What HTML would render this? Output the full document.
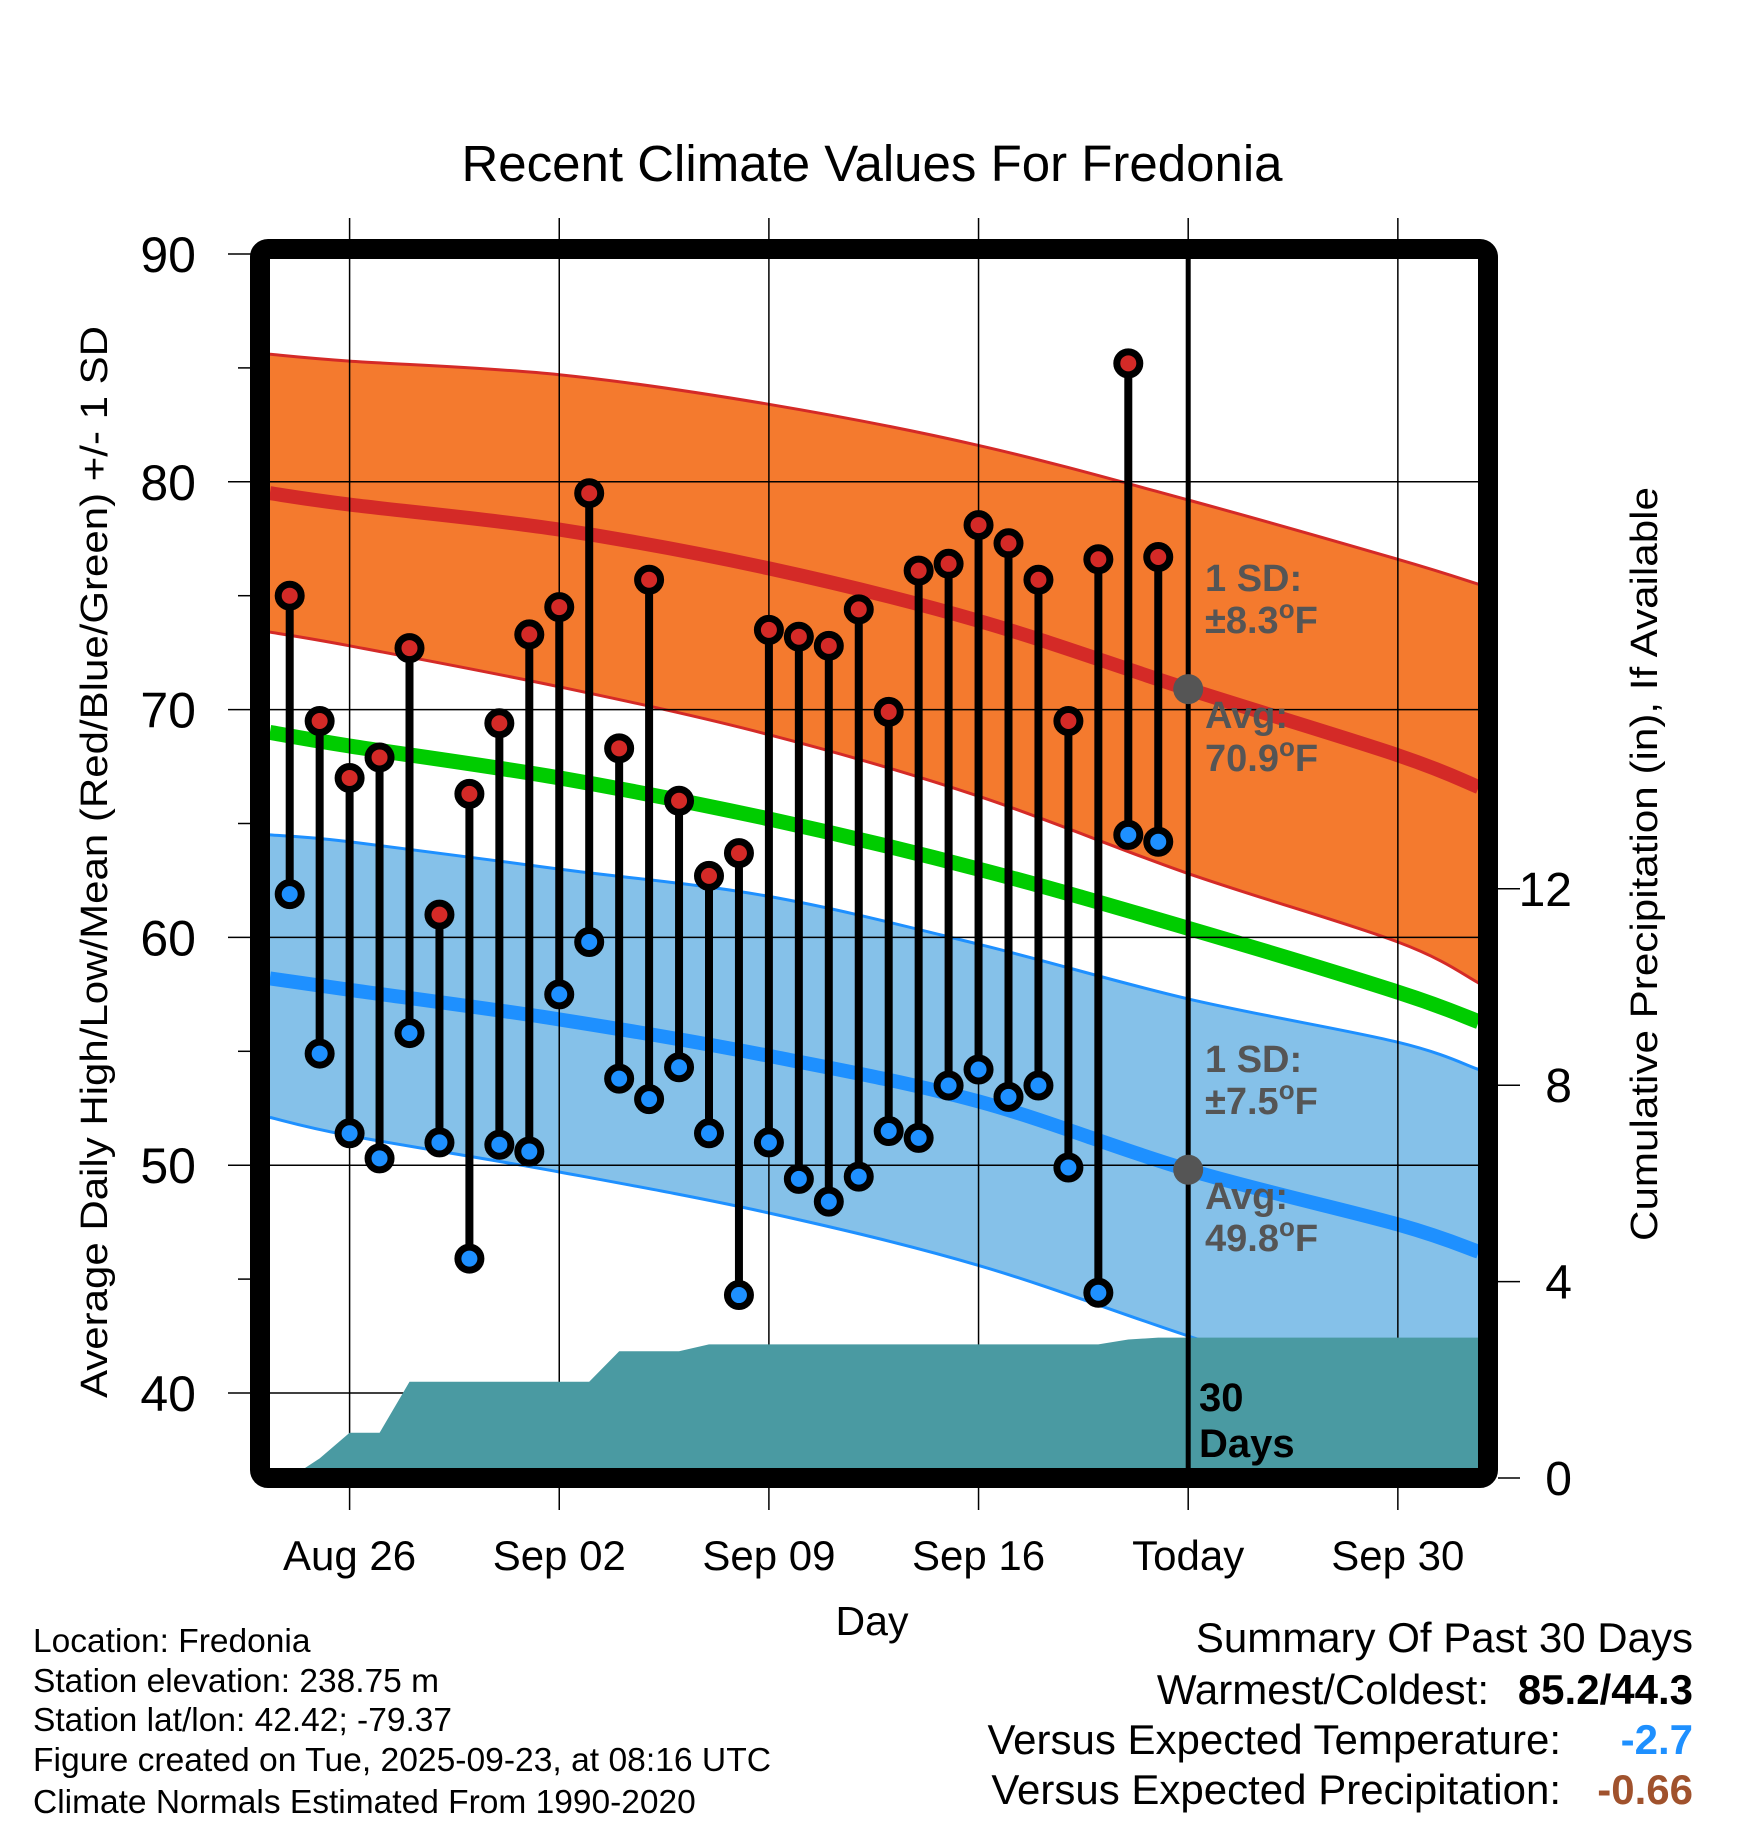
<!DOCTYPE html>
<html><head><meta charset="utf-8"><style>
html,body{margin:0;padding:0;background:#fff;}
svg{display:block;font-family:"Liberation Sans",Arial,sans-serif;}
</style></head><body>
<svg id="chart" width="1748" height="1828" viewBox="0 0 1748 1828" xmlns="http://www.w3.org/2000/svg">
<defs><clipPath id="plotclip"><rect x="270" y="259" width="1208" height="1209"/></clipPath></defs>
<g id="bands" clip-path="url(#plotclip)"></g>
<g id="grid"></g>
<g id="precip" clip-path="url(#plotclip)"></g>
<g id="marks"></g>
<rect x="260" y="249" width="1228" height="1229" rx="8" fill="none" stroke="#000" stroke-width="20"/>
<g id="axes"></g>
<text x="872" y="181" font-size="51" text-anchor="middle">Recent Climate Values For Fredonia</text>
<text x="872" y="1635" font-size="41" text-anchor="middle">Day</text>
<text transform="translate(107,862) rotate(-90)" font-size="38" text-anchor="middle" textLength="1072" lengthAdjust="spacingAndGlyphs">Average Daily High/Low/Mean (Red/Blue/Green) +/- 1 SD</text>
<text transform="translate(1657,864) rotate(-90)" font-size="38" text-anchor="middle" textLength="754" lengthAdjust="spacingAndGlyphs">Cumulative Precipitation (in), If Available</text>
<g fill="#555" font-weight="bold" font-size="38">
<text x="1205" y="591">1 SD:</text>
<text x="1205" y="633">±8.3<tspan font-size="26" dy="-15">o</tspan><tspan dy="15">F</tspan></text>
<text x="1205" y="728">Avg:</text>
<text x="1205" y="771">70.9<tspan font-size="26" dy="-15">o</tspan><tspan dy="15">F</tspan></text>
</g>
<g fill="#555" font-weight="bold" font-size="38">
<text x="1205" y="1072">1 SD:</text>
<text x="1205" y="1114">±7.5<tspan font-size="26" dy="-15">o</tspan><tspan dy="15">F</tspan></text>
<text x="1205" y="1209">Avg:</text>
<text x="1205" y="1251">49.8<tspan font-size="26" dy="-15">o</tspan><tspan dy="15">F</tspan></text>
</g>
<g fill="#000" font-weight="bold" font-size="40">
<text x="1199" y="1411">30</text>
<text x="1199" y="1457">Days</text>
</g>
<g font-size="33.5">
<text x="33" y="1652">Location: Fredonia</text>
<text x="33" y="1692">Station elevation: 238.75 m</text>
<text x="33" y="1731">Station lat/lon: 42.42; -79.37</text>
<text x="33" y="1771" textLength="738" lengthAdjust="spacingAndGlyphs">Figure created on Tue, 2025-09-23, at 08:16 UTC</text>
<text x="33" y="1813">Climate Normals Estimated From 1990-2020</text>
</g>
<g font-size="42">
<text x="1693" y="1652" text-anchor="end">Summary Of Past 30 Days</text>
<text x="1489" y="1704" text-anchor="end">Warmest/Coldest:</text>
<text x="1693" y="1704" text-anchor="end" font-weight="bold">85.2/44.3</text>
<text x="1561" y="1754" text-anchor="end">Versus Expected Temperature:</text>
<text x="1693" y="1754" text-anchor="end" font-weight="bold" fill="#1e90ff">-2.7</text>
<text x="1561" y="1804" text-anchor="end">Versus Expected Precipitation:</text>
<text x="1693" y="1804" text-anchor="end" font-weight="bold" fill="#a0522d">-0.66</text>
</g>
</svg>
<script>
// days offset from Aug 26
const normDays = [-2.66, 0, 7, 14, 21, 28, 35, 37.7];
const highUpper = [85.6, 85.3, 84.7, 83.4, 81.6, 79.2, 76.6, 75.5];
const highMean  = [79.5, 79.0, 77.9, 76.2, 73.9, 70.9, 68.0, 66.6];
const highLower = [73.4, 72.8, 71.0, 68.9, 66.2, 62.8, 59.8, 58.0];
const avgMean   = [69.0, 68.4, 67.0, 65.2, 63.0, 60.4, 57.6, 56.3];
const lowUpper  = [64.5, 64.2, 63.0, 61.8, 59.7, 57.3, 55.4, 54.2];
const lowMean   = [58.2, 57.7, 56.4, 54.8, 52.8, 49.8, 47.4, 46.2];
const lowLower  = [52.1, 51.3, 49.7, 47.9, 45.6, 42.5, 39.5, 38.5];
const obsStartDay = -2; // Aug 24
const highs = [75.0,69.5,67.0,67.9,72.7,61.0,66.3,69.4,73.3,74.5,79.5,68.3,75.7,66.0,62.7,63.7,73.5,73.2,72.8,74.4,69.9,76.1,76.4,78.1,77.3,75.7,69.5,76.6,85.2,76.7];
const lows  = [61.9,54.9,51.4,50.3,55.8,51.0,45.9,50.9,50.6,57.5,59.8,53.8,52.9,54.3,51.4,44.3,51.0,49.4,48.4,49.5,51.5,51.2,53.5,54.2,53.0,53.5,49.9,44.4,64.5,64.2];
const precipCum = [0.0,0.4,0.92,0.92,1.96,1.96,1.96,1.96,1.96,1.96,1.96,2.58,2.58,2.58,2.72,2.72,2.72,2.72,2.72,2.72,2.72,2.72,2.72,2.72,2.72,2.72,2.72,2.72,2.82,2.86];
const tempTicks = [90, 80, 70, 60, 50, 40];
const tempMinor = [85, 75, 65, 55, 45];
const precipTicks = [0, 4, 8, 12];
const xTickDays = [0, 7, 14, 21, 28, 35];
const xTickLabels = ["Aug 26", "Sep 02", "Sep 09", "Sep 16", "Today", "Sep 30"];
const todayDay = 28;
const todayHigh = 70.9, todayLow = 49.8;

const NS = "http://www.w3.org/2000/svg";
const X = d => 349.6 + d * 29.95;
const Y = t => 254 + (90 - t) * 22.78;
const P = p => 1478 - p * 49.1;
function mk(tag, attrs, parent) { const e = document.createElementNS(NS, tag); for (const k in attrs) e.setAttribute(k, attrs[k]); parent.appendChild(e); return e; }
const xy = arr => arr.map((v, i) => [X(normDays[i]), Y(v)]);
function smooth(p, move) {
  let s = (move ? 'M' : 'L') + p[0][0].toFixed(1) + ',' + p[0][1].toFixed(1);
  for (let i = 0; i < p.length - 1; i++) {
    const p0 = p[Math.max(i - 1, 0)], p1 = p[i], p2 = p[i + 1], p3 = p[Math.min(i + 2, p.length - 1)];
    const c1 = [p1[0] + (p2[0] - p0[0]) / 6, p1[1] + (p2[1] - p0[1]) / 6];
    const c2 = [p2[0] - (p3[0] - p1[0]) / 6, p2[1] - (p3[1] - p1[1]) / 6];
    s += 'C' + c1.map(v => v.toFixed(1)).join(',') + ' ' + c2.map(v => v.toFixed(1)).join(',') + ' ' + p2[0].toFixed(1) + ',' + p2[1].toFixed(1);
  }
  return s;
}
const bands = document.getElementById('bands'), grid = document.getElementById('grid'), precip = document.getElementById('precip'), marks = document.getElementById('marks'), axes = document.getElementById('axes');

let e = mk('path', {d: smooth(xy(highUpper), true) + smooth(xy(highLower).reverse(), false) + 'Z', fill: '#f47a2e'}, bands);
 
e = mk('path', {d: smooth(xy(lowUpper), true) + smooth(xy(lowLower).reverse(), false) + 'Z', fill: '#85c1e9'}, bands);
 
[[highUpper,'#d42a27',3,'high-upper-edge'],[highLower,'#d42a27',3,'high-lower-edge'],[lowUpper,'#1e90ff',3,'low-upper-edge'],[lowLower,'#1e90ff',3,'low-lower-edge'],
 [avgMean,'#00cc00',15,'mean-normal-line'],[highMean,'#d42a27',14,'high-normal-line'],[lowMean,'#1e90ff',14,'low-normal-line']].forEach(s => {
  const l = mk('path', {d: smooth(xy(s[0]), true), fill: 'none', stroke: s[1], 'stroke-width': s[2]}, bands);
  
  
});
tempTicks.forEach(t => {
  const g = mk('line', {x1: 228, x2: 1478, y1: Y(t), y2: Y(t), stroke: '#000', 'stroke-width': 1.5}, grid);
  
  
});
xTickDays.forEach(d => {
  const g = mk('line', {x1: X(d), x2: X(d), y1: 218, y2: 1510, stroke: '#000', 'stroke-width': 1.5}, grid);
  
  
});
const pp = [[270, P(0)], [X(obsStartDay), P(0)]];
precipCum.forEach((v, i) => pp.push([X(obsStartDay + i), P(v)]));
pp.push([1478, P(precipCum[precipCum.length - 1])], [1478, P(0)]);
e = mk('polygon', {points: pp.map(p => p[0].toFixed(1) + ',' + p[1].toFixed(1)).join(' '), fill: '#4a9aa2'}, precip);
 
e = mk('line', {x1: X(todayDay), x2: X(todayDay), y1: 259, y2: 1468, stroke: '#000', 'stroke-width': 5}, marks);
 
[todayHigh, todayLow].forEach(v => {
  const c = mk('circle', {cx: X(todayDay), cy: Y(v), r: 15, fill: '#555'}, marks);
  
  
});
highs.forEach((h, i) => {
  const x = X(obsStartDay + i);
  const s = mk('line', {x1: x, x2: x, y1: Y(h), y2: Y(lows[i]), stroke: '#000', 'stroke-width': 8}, marks);
  
  
});
highs.forEach((h, i) => {
  const x = X(obsStartDay + i);
  const a = mk('circle', {cx: x, cy: Y(h), r: 11.5, fill: '#d42a27', stroke: '#000', 'stroke-width': 7}, marks);
  
  
  const b = mk('circle', {cx: x, cy: Y(lows[i]), r: 11.5, fill: '#1e90ff', stroke: '#000', 'stroke-width': 7}, marks);
  
  
});
tempTicks.forEach(t => {
  const l = mk('text', {x: 196, y: Y(t) + 18, 'font-size': 50, 'text-anchor': 'end'}, axes);
  l.textContent = t;
  
  
});
tempMinor.forEach(t => {
  const l = mk('line', {x1: 238, x2: 250, y1: Y(t), y2: Y(t), stroke: '#000', 'stroke-width': 1.5}, axes);
  
  
});
precipTicks.forEach(p => {
  const t = mk('line', {x1: 1498, x2: 1520, y1: P(p), y2: P(p), stroke: '#000', 'stroke-width': 1.5}, axes);
  
  
  const l = mk('text', {x: 1572, y: P(p) + 17, 'font-size': 48, 'text-anchor': 'end'}, axes);
  l.textContent = p;
  
  
});
xTickDays.forEach((d, i) => {
  const l = mk('text', {x: X(d), y: 1570, 'font-size': 42, 'text-anchor': 'middle'}, axes);
  l.textContent = xTickLabels[i];
  
  
});
</script>
</body></html>
